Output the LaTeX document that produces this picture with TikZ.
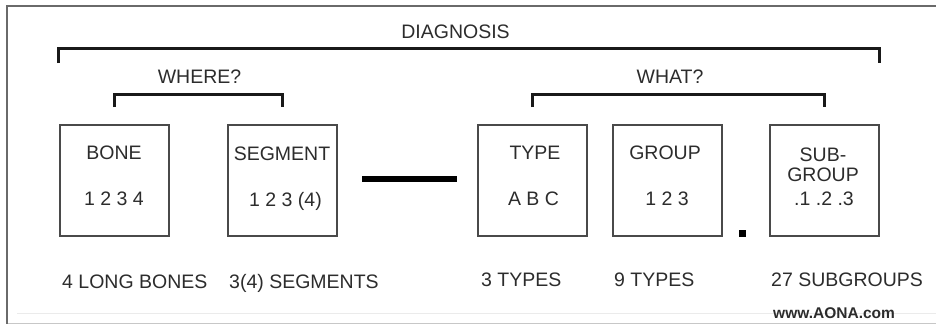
\documentclass[tikz,border=0pt]{standalone}
\usepackage{fontspec}
\setmainfont{Liberation Sans}
\usepackage{tikz}
\definecolor{txtgray}{HTML}{2C2C2C}
\definecolor{boxgray}{HTML}{4A4A4A}
\definecolor{framegray}{HTML}{6A6A6A}

\begin{document}
\begin{tikzpicture}[x=1pt,y=-1pt,
  txt/.style={anchor=base,inner sep=0pt,text=txtgray,font=\fontsize{19.5}{22}\selectfont},
  count/.style={txt,anchor=base west},
  box/.style={draw=boxgray,line width=2pt,minimum width=109pt,minimum height=111pt,inner sep=0pt},
  bracket/.style={draw=black!90,line width=3pt}]
\useasboundingbox (0,0) rectangle (936,324);
\draw[framegray,line width=1.8pt] (936,6)--(7,6)--(7,324);
\draw[black!8,line width=1pt] (17,313)--(936,313);
\draw[black!22,line width=1pt] (8,323)--(936,323);
\node[box] (bone) at (114,180.5) {};
\node[box] (segment) at (282,180.5) {};
\node[box] (type) at (532.5,180.5) {};
\node[box] (group) at (667,180.5) {};
\node[box] (subgroup) at (824,180.5) {};
\draw[bracket] ([yshift=61pt]bone.north west)--([yshift=76pt]bone.north west)
    -|([yshift=61pt]subgroup.north east);
\draw[bracket] ([yshift=17pt]bone.north)--([yshift=30pt]bone.north)
    -|([yshift=17pt]segment.north);
\draw[bracket] ([yshift=17pt]type.north)--([yshift=30pt]type.north)
    -|([yshift=17pt]subgroup.north);
\node[txt] (diagnosis) at (455.5,38) {DIAGNOSIS};
\node[txt] (where) at (199.5,83) {WHERE?};
\node[txt] (what) at (670,83) {WHAT?};
\node[txt] (bonename) at (114,159) {BONE};
\node[txt] (bonenum) at (114,205) {1 2 3 4};
\node[txt] (segname) at (282,160) {SEGMENT};
\node[txt] (segnum) at (285.5,206) {1 2 3 (4)};
\node[txt] (typename) at (535,159) {TYPE};
\node[txt] (typenum) at (533.5,205) {A B C};
\node[txt] (groupname) at (665,159) {GROUP};
\node[txt] (groupnum) at (667,205) {1 2 3};
\node[txt] (subname) at (823,161) {SUB-};
\node[txt] (subname2) at (823,181) {GROUP};
\node[txt] (subnum) at (824,205) {.1 .2 .3};
\node[fill=black,minimum width=95pt,minimum height=6pt,inner sep=0pt] (dash) at (409.5,179) {};
\node[fill=black,minimum size=7pt,inner sep=0pt] (dot) at (742.5,233) {};
\node[count] (bonecount) at (62,288) {4 LONG BONES};
\node[count] (segcount) at (229,288) {3(4) SEGMENTS};
\node[count] (typecount) at (481,286) {3 TYPES};
\node[count] (groupcount) at (614,286) {9 TYPES};
\node[count] (subcount) at (771,286) {27 SUBGROUPS};
\node[count,font=\bfseries\fontsize{15.5}{17}\selectfont] (site) at (773,318) {www.AONA.com};
\end{tikzpicture}
\end{document}
